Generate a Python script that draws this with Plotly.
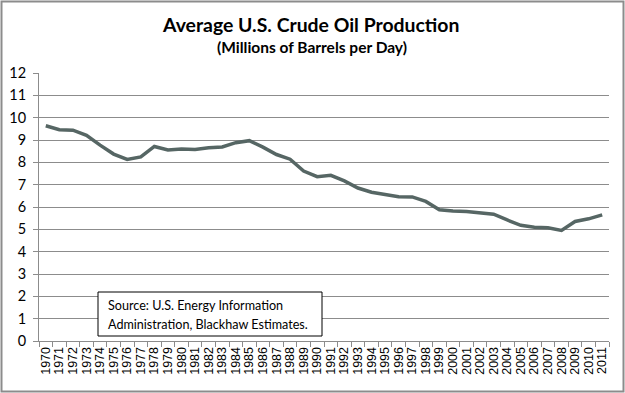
import plotly.graph_objects as go

years = [str(y) for y in range(1970, 2012)]
production = [9.64, 9.46, 9.44, 9.21, 8.77, 8.37, 8.13, 8.24, 8.71, 8.55,
              8.60, 8.57, 8.65, 8.69, 8.88, 8.97, 8.68, 8.35, 8.14, 7.61,
              7.36, 7.42, 7.17, 6.85, 6.66, 6.56, 6.46, 6.45, 6.25, 5.88,
              5.82, 5.80, 5.74, 5.68, 5.42, 5.18, 5.09, 5.07, 4.95, 5.35,
              5.47, 5.65]
y_ticks = list(range(0, 13))
source_lines = ["Source: U.S. Energy Information", "Administration, Blackhaw Estimates."]

W, H = 625, 393
L, R, T, B = 39, 16, 73, 52
pw, ph = W - L - R, H - T - B

def px(x):
    return (x - L) / pw

def py(y):
    return 1 - (y - T) / ph

fig = go.Figure()
fig.add_trace(go.Scatter(
    x=years, y=production, mode="lines",
    line=dict(color="#566664", width=3.5),
    showlegend=False, hoverinfo="x+y",
))

annotations = [
    dict(text="<b>Average U.S. Crude Oil Production</b>", xref="paper", yref="paper",
         x=px(310), y=py(24), xanchor="center", yanchor="middle", showarrow=False,
         font=dict(family="Lato, Calibri, sans-serif", size=19.4, color="black")),
    dict(text="<b>(Millions of Barrels per Day)</b>", xref="paper", yref="paper",
         x=px(312), y=py(46.5), xanchor="center", yanchor="middle", showarrow=False,
         font=dict(family="Lato, Calibri, sans-serif", size=15.5, color="black")),
]
for i, line in enumerate(source_lines):
    annotations.append(dict(
        text=line, xref="paper", yref="paper", x=px(106), y=py(305 + 19 * i),
        xanchor="left", yanchor="middle", align="left", showarrow=False,
        font=dict(family="Lato, Calibri, sans-serif", size=12.6, color="black")))

fig.update_layout(
    width=W, height=H,
    margin=dict(l=L, r=R, t=T, b=B, autoexpand=False),
    paper_bgcolor="white", plot_bgcolor="white",
    font=dict(family="Lato, Calibri, sans-serif", color="black"),
    xaxis=dict(
        type="category", tickmode="array", tickvals=years, ticktext=years,
        tickson="boundaries", ticks="outside", ticklen=5, automargin=False,
        tickcolor="#8c8c8c", showgrid=False, showline=True, linecolor="#8c8c8c",
        linewidth=1, tickangle=-90,
        tickfont=dict(family="Liberation Sans, Arial, sans-serif", size=12.5, color="black"),
        range=[-0.5, len(years) - 0.5],
    ),
    yaxis=dict(
        range=[0, 12], tickvals=y_ticks, ticks="outside", ticklen=5, automargin=False,
        tickcolor="#8c8c8c", showgrid=True, gridcolor="#8c8c8c", gridwidth=1,
        showline=True, linecolor="#8c8c8c", linewidth=1, zeroline=False,
        tickfont=dict(family="Lato, Calibri, sans-serif", size=14.5, color="black"),
        ticklabelstandoff=4,
    ),
    shapes=[
        dict(type="rect", xref="paper", yref="paper",
             x0=px(98), x1=px(322), y0=py(292), y1=py(336),
             line=dict(color="black", width=1), fillcolor="white", layer="above"),
        dict(type="rect", xref="paper", yref="paper",
             x0=px(1.5), x1=px(623.5), y0=py(1.5), y1=py(391.5),
             line=dict(color="#8c8c8c", width=2), fillcolor="rgba(0,0,0,0)",
             layer="above"),
    ],
    annotations=annotations,
)

fig.write_html("out.html", config={"displayModeBar": False},
               post_script="document.body.style.margin='0';document.body.style.overflow='hidden';")
